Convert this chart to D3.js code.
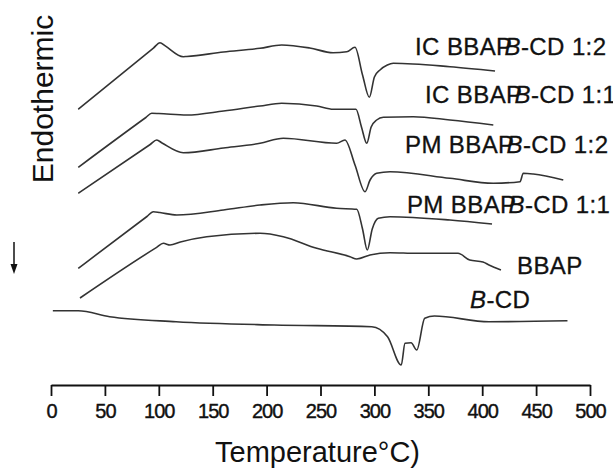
<!DOCTYPE html>
<html>
<head>
<meta charset="utf-8">
<script src="https://cdn.jsdelivr.net/npm/d3@7"></script>
<style>
   body { margin: 0; background: #fff; }
   svg { display: block; font-family: "Liberation Sans", Arial, sans-serif; }
</style>
</head>
<body>
<div id="chart"></div>
<script>
// DSC traces: temperature (degC) and heat flow (arbitrary units, traces offset)
var tempIC12 = [25.3, 95, 101.1, 106, 122.7, 126, 160, 193.9, 214, 240, 261.6, 274.3, 282, 289, 295.3, 300, 305.2, 312, 317.5, 370.1, 411.9]
var heatIC12 = [27.57, 33.69, 34.23, 33.91, 32.83, 32.85, 33.3, 33.67, 34.0, 33.7, 33.23, 33.33, 33.77, 31.0, 28.77, 30.8, 31.5, 32.0, 32.17, 31.83, 31.4]

var tempIC11 = [25.3, 88, 93.4, 100, 125.9, 160, 193.9, 214, 246.5, 261.9, 282.9, 288, 292.9, 297, 302.1, 308.3, 336.1, 370.1, 410.3]
var heatIC11 = [21.77, 26.75, 27.17, 27.15, 27.0, 27.4, 27.9, 28.17, 27.9, 27.57, 27.57, 25.8, 24.17, 25.8, 26.5, 26.77, 26.83, 26.5, 26.0]

var tempPM12 = [25.3, 92, 98.1, 103, 122.7, 160, 193.9, 215.5, 265, 272.7, 282, 291.3, 296, 302.1, 314.5, 370.1, 410.3, 435.1, 438.1, 447.4, 475.2]
var heatPM12 = [19.17, 24.05, 24.5, 24.2, 23.23, 23.7, 24.17, 24.67, 24.17, 24.5, 22.0, 19.33, 20.5, 21.17, 21.33, 20.67, 20.17, 20.33, 21.17, 21.1, 20.5]

var tempPM11 = [25.3, 89, 94.9, 101, 116.6, 160, 193.9, 224.8, 265, 283.6, 289, 293.4, 298, 303.6, 314.5, 370.1, 409.1]
var heatPM11 = [11.67, 16.85, 17.33, 17.25, 17.0, 17.5, 18.0, 18.23, 17.67, 17.57, 15.6, 13.5, 15.6, 16.67, 16.83, 16.5, 16.1]

var tempBBAP = [26.9, 98, 104.2, 110.4, 120, 144.4, 193.9, 215.5, 246.5, 277.4, 283.6, 295.9, 314.5, 339.2, 377.6, 388.4, 400.7, 406.3, 417.4]
var heatBBAP = [8.7, 13.76, 14.17, 14.0, 14.3, 14.83, 15.17, 14.83, 13.67, 12.83, 12.6, 13.0, 13.23, 13.17, 13.17, 12.5, 12.3, 12.0, 11.5]

var tempBCD = [1.7, 25.3, 54.4, 116, 206.9, 297.6, 312.2, 324.9, 328.4, 334, 339.3, 346.7, 355.7, 406.3, 479.1]
var heatBCD = [7.43, 7.43, 6.83, 6.33, 6.0, 5.83, 4.83, 2.0, 4.17, 4.23, 3.5, 6.67, 6.9, 6.33, 6.43]

var seriesPrefix = ["IC BBAP", "IC BBAP", "PM BBAP", "PM BBAP", "BBAP", ""]
var seriesSuffix = ["-CD 1:2", "-CD 1:1", "-CD 1:2", "-CD 1:1", "", "-CD"]

var xTicks = [0, 50, 100, 150, 200, 250, 300, 350, 400, 450, 500]
var xMinorTicks = [25, 75, 125, 175, 225, 275, 325, 375, 425, 475]

var xTitle = "Temperature°C)"
var yTitle = "Endothermic"

// label anchors, in data units (temperature, heat flow)
var labelAt = [[337.7, 33.0], [346.9, 28.2], [328.4, 23.2], [330.2, 17.2], [432.3, 11.1], [388.7, 7.7]]

var width = 613
var height = 470

var temps = [tempIC12, tempIC11, tempPM12, tempPM11, tempBBAP, tempBCD]
var heats = [heatIC12, heatIC11, heatPM12, heatPM11, heatBBAP, heatBCD]
var series = temps.map(function(t, i) {
   return t.map(function(d, j) { return { t: d, h: heats[i][j] } })
})

var svg = d3.select("#chart").append("svg")
   .attr("width", width)
   .attr("height", height)

svg.append("rect")
   .attr("width", width)
   .attr("height", height)
   .attr("fill", "#fff")

var scaleX = d3.scaleLinear().domain([0, 500]).range([51, 590])
var scaleY = d3.scaleLinear().domain([0, 37]).range([385, 15])

var line = d3.line()
   .x(function(d) { return scaleX(d.t) })
   .y(function(d) { return scaleY(d.h) })
   .curve(d3.curveMonotoneX)

svg.selectAll("path.trace").data(series).enter().append("path")
   .attr("class", "trace")
   .attr("fill", "none")
   .attr("stroke", "#333")
   .attr("stroke-width", 1.6)
   .attr("stroke-linejoin", "round")
   .attr("d", line)

// bottom axis, major + minor ticks
var axisG = svg.append("g")
   .attr("transform", "translate(0," + scaleY(0) + ")")

axisG.call(d3.axisBottom(scaleX)
      .tickValues(xMinorTicks)
      .tickSize(6)
      .tickSizeOuter(0)
      .tickFormat(""))

axisG.call(d3.axisBottom(scaleX)
      .tickValues(xTicks)
      .tickSize(11)
      .tickSizeOuter(0)
      .tickPadding(8)
      .tickFormat(d3.format("d")))

axisG.selectAll("path.domain").attr("stroke", "#111").attr("stroke-width", 2)
axisG.selectAll("line").attr("stroke", "#111").attr("stroke-width", 1.8)
axisG.selectAll("text")
   .attr("fill", "#111")
   .attr("stroke", "#111")
   .attr("stroke-width", 0.4)
   .attr("font-size", 20)
   .attr("letter-spacing", "-1px")
   .attr("font-family", "'Liberation Sans', Arial, sans-serif")

svg.append("text")
   .attr("x", 215)
   .attr("y", 462)
   .attr("font-size", 29)
   .attr("fill", "#111")
   .text(xTitle)

svg.append("text")
   .attr("transform", "translate(53,99) rotate(-90)")
   .attr("text-anchor", "middle")
   .attr("font-size", 30)
   .attr("fill", "#111")
   .text(yTitle)

// small down arrow at the left
svg.append("line")
   .attr("x1", 14).attr("x2", 14)
   .attr("y1", 242).attr("y2", 266)
   .attr("stroke", "#111")
   .attr("stroke-width", 1.5)
svg.append("path")
   .attr("d", "M10.5,264 L17.5,264 L14,274 Z")
   .attr("fill", "#111")

// trace labels
var labels = svg.selectAll("text.label").data(seriesPrefix).enter().append("text")
   .attr("class", "label")
   .attr("x", function(d, i) { return scaleX(labelAt[i][0]) })
   .attr("y", function(d, i) { return scaleY(labelAt[i][1]) })
   .attr("font-size", 24)
   .attr("letter-spacing", "0.4px")
   .attr("fill", "#111")
   .attr("stroke", "#111")
   .attr("stroke-width", 0.3)

labels.each(function(d, i) {
   let el = d3.select(this)
   el.append("tspan").text(d)
   if(i == 4) {
      return
   }
   el.append("tspan")
      .attr("font-style", "italic")
      .attr("dx", d == "" ? 0 : -8)
      .text("B")
   el.append("tspan").text(seriesSuffix[i])
})
</script>
</body>
</html>
